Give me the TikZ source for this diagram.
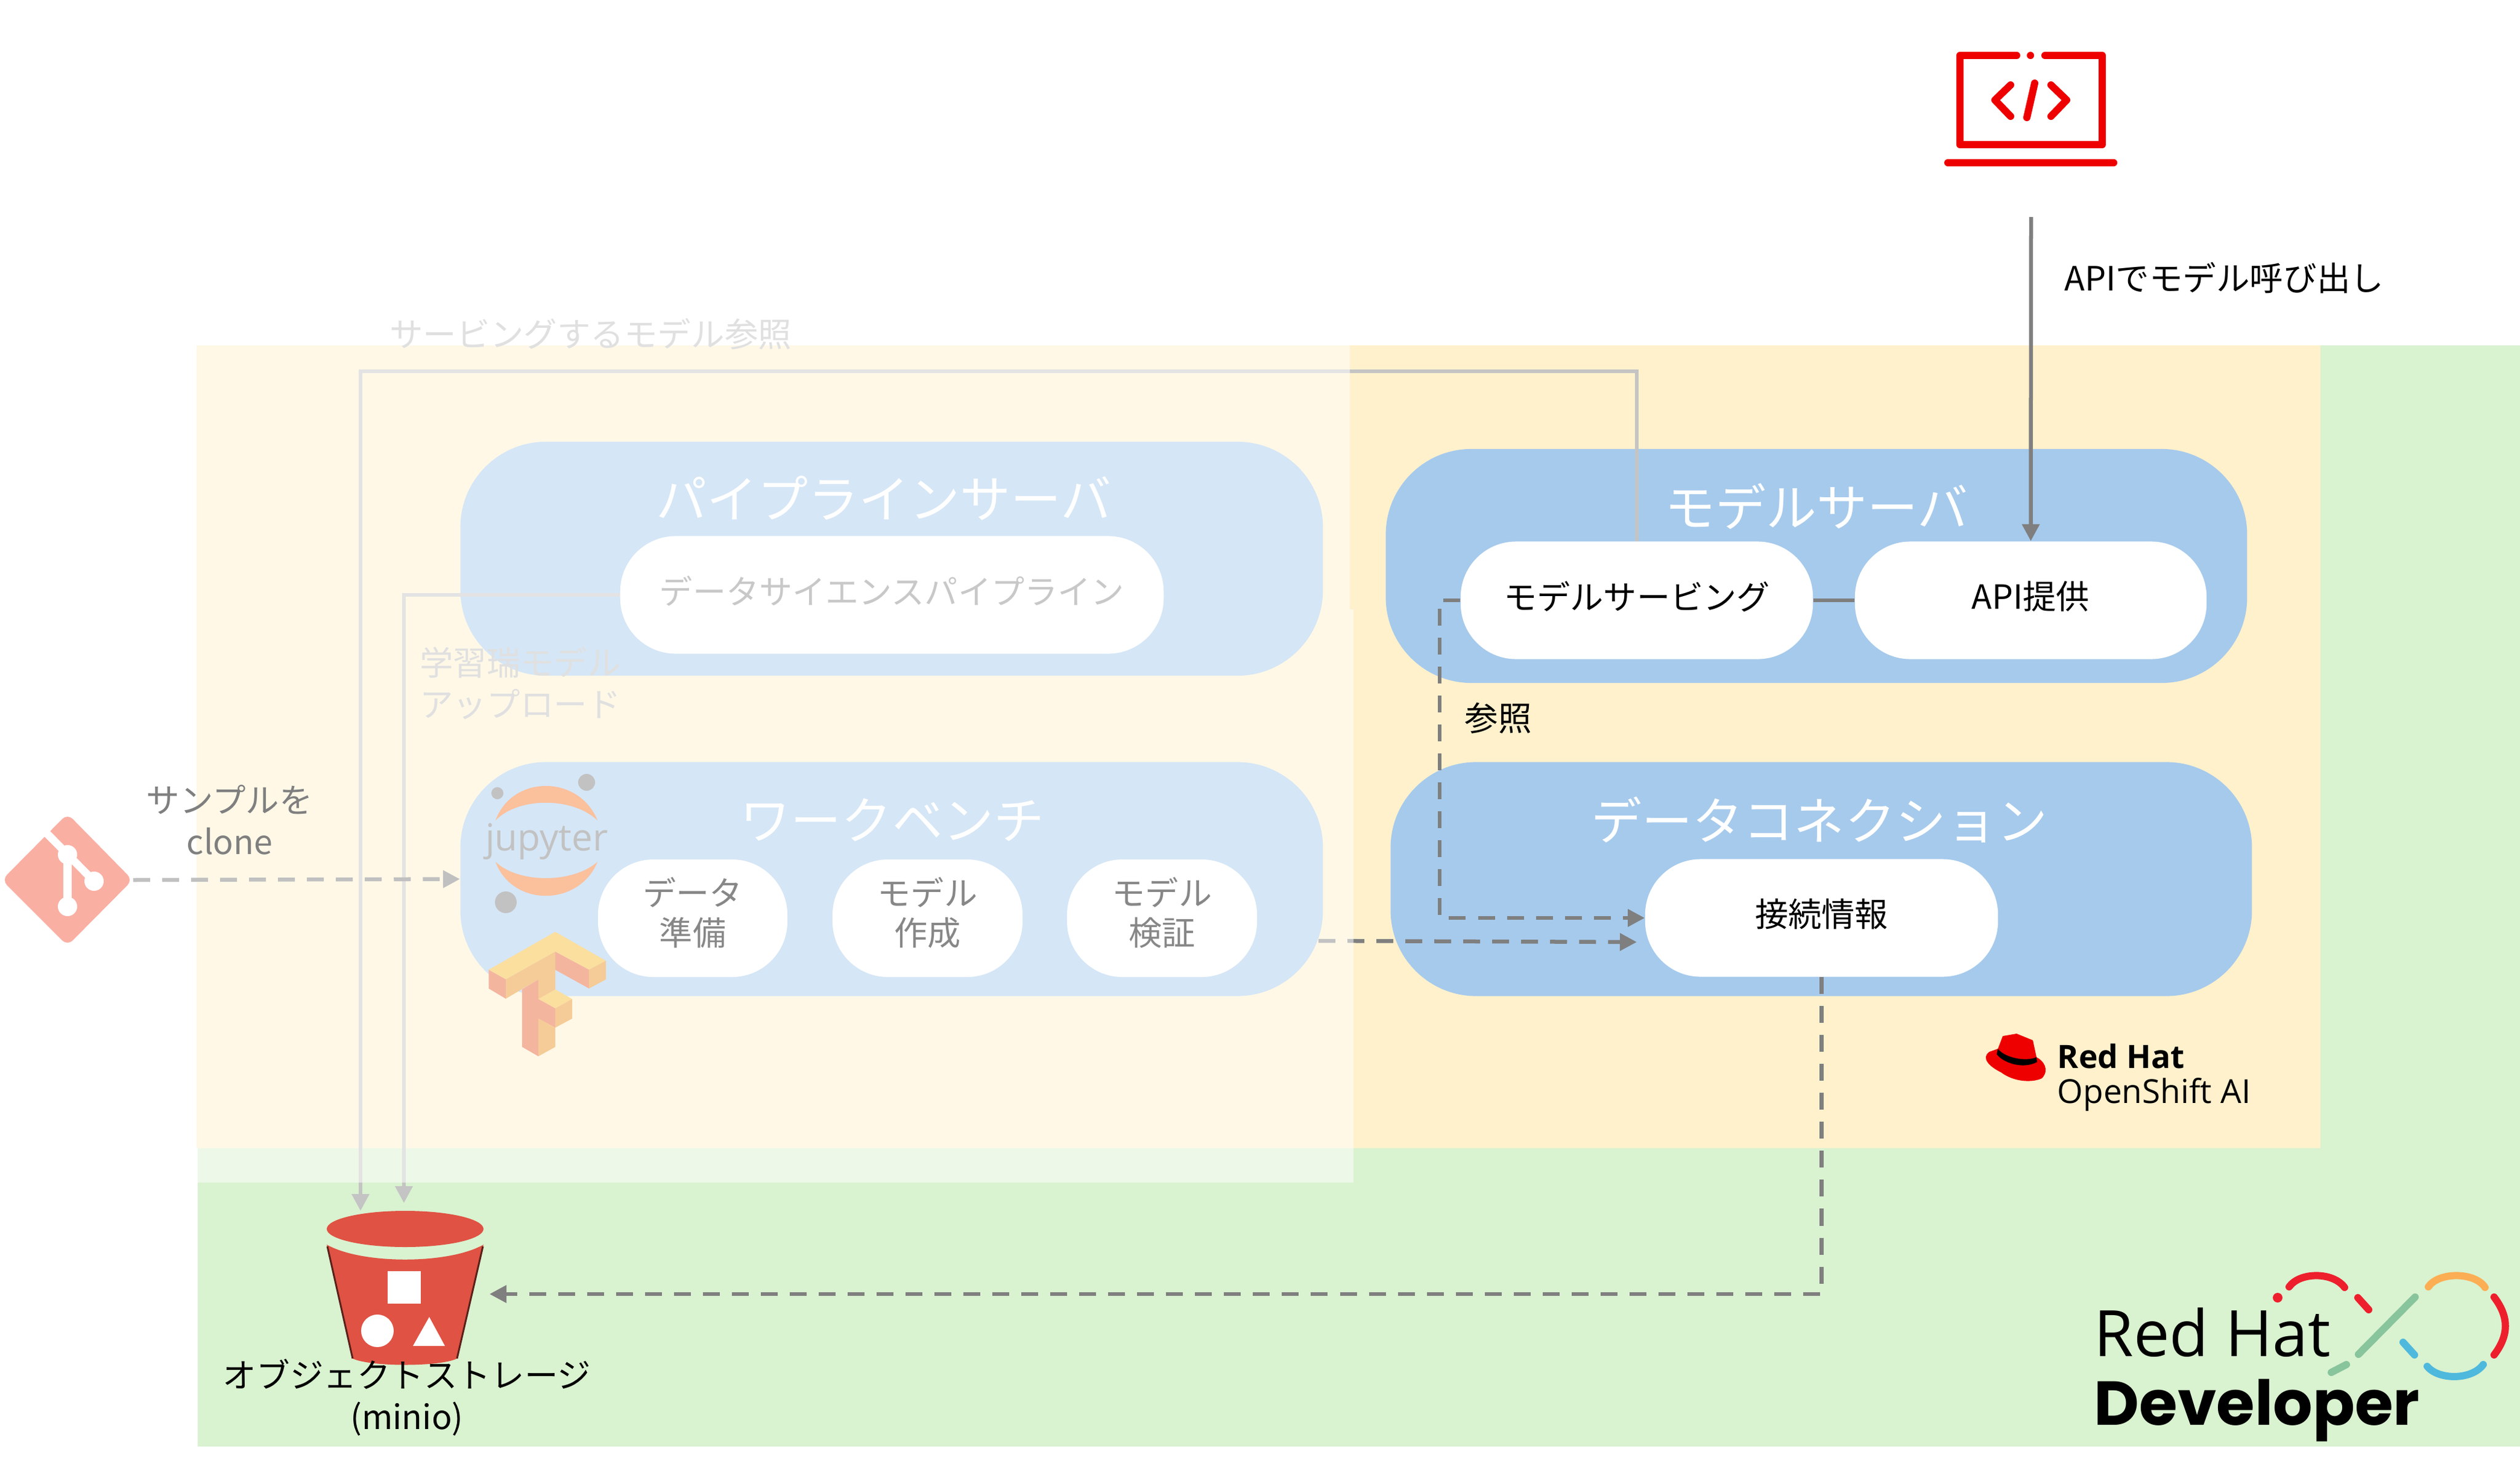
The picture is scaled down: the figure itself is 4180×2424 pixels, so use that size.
\documentclass[tikz,border=0pt]{standalone}
\usepackage{fontspec}
\setmainfont{Noto Sans CJK JP}
\newfontfamily\logofont{Open Sans}
\newfontfamily\devfont{Poppins}
\usetikzlibrary{arrows.meta}
\definecolor{mygreen}{HTML}{d9f2d0}
\definecolor{myyellow}{HTML}{fff1cc}
\definecolor{myserver}{HTML}{a6caec}
\definecolor{myline}{HTML}{7f7f7f}
\definecolor{myfaint}{HTML}{c4c4c4}
\definecolor{mypale}{HTML}{c0c0c0}
\definecolor{myghost}{HTML}{e0e0e0}
\definecolor{myred}{HTML}{ee0000}
\definecolor{mybucket}{HTML}{e05243}
\definecolor{mydevred}{HTML}{ee1f2d}
\definecolor{mydevgreen}{HTML}{88c49c}
\definecolor{mydevblue}{HTML}{4fb9dd}
\definecolor{mydevorange}{HTML}{fcae54}
\definecolor{mygit}{HTML}{faafa3}
\definecolor{myjupyter}{HTML}{f77a2d}
\definecolor{mytftop}{HTML}{f7bb35}
\definecolor{mytfleft}{HTML}{e86235}
\definecolor{mytfright}{HTML}{ea9324}
\tikzset{
  x=0.01cm, y=-0.01cm,
  server/.style={fill=myserver, rounded corners=1.42cm, minimum width=14.3cm, minimum height=3.88cm},
  pill/.style={fill=white, rounded corners=0.92cm, minimum height=1.95cm, align=center,
    font=\fontsize{15.7pt}{19pt}\selectfont, execute at end node={\rule[-4.8pt]{0pt}{1pt}}},
  tallpill/.style={pill, execute at end node={\rule[-6.6pt]{0pt}{1pt}}},
  title/.style={text=white, font=\fontsize{23.9pt}{24pt}\selectfont},
  caption/.style={align=center, font=\fontsize{15.8pt}{19.6pt}\selectfont},
  conn/.style={line width=0.065cm, draw=myline, -{Triangle[width=0.28cm,length=0.28cm]}},
  dashconn/.style={conn, dash pattern=on 0.28cm off 0.2cm},
  faintconn/.style={conn, draw=myfaint},
  logostroke/.style={line width=0.12cm, line cap=round, line join=round},
}
\begin{document}
\begin{tikzpicture}
\useasboundingbox (0,0) rectangle (4180,2424);
% background zones
\node[fill=mygreen, minimum width=38.53cm, minimum height=18.26cm, anchor=north west] (greenzone) at (327,572) {};
\node[fill=myyellow, minimum width=35.21cm, minimum height=13.32cm, anchor=north west] (yellowzone) at (325,572) {};
% servers
\node[server] (pipesrv) at (1479,927) {};
\node[server] (wbsrv) at (1479,1458.5) {};
\node[server, minimum width=14.28cm] (modelsrv) at (3013,939) {};
\node[server, minimum width=14.28cm] (datasrv) at (3021,1458.5) {};
\node[title] (pipetitle) at (1466,827) {パイプラインサーバ};
\node[title] (wbtitle) at (1480,1360) {ワークベンチ};
\node[title] (modeltitle) at (3013,840) {モデルサーバ};
\node[title] (datatitle) at (3018,1360) {データコネクション};
% white boxes
\node[pill, minimum width=9.01cm, text=black!45!white] (pipeline) at (1479.5,987) {データサイエンスパイプライン};
\node[tallpill, minimum width=3.14cm] (prep) at (1149,1523.5) {データ\\準備};
\node[tallpill, minimum width=3.15cm] (build) at (1538.5,1523.5) {モデル\\作成};
\node[tallpill, minimum width=3.15cm] (check) at (1927.5,1523.5) {モデル\\検証};
\node[pill, minimum width=5.84cm] (serving) at (2715,996) {モデルサービング};
\node[pill, minimum width=5.83cm] (apibox) at (3368.5,996) {API提供};
\node[pill, minimum width=5.85cm] (conninfo) at (3021.5,1523) {接続情報};
% jupyter
\fill[myjupyter] (822,1361) .. controls (850,1285) and (960,1285) .. (991,1361) .. controls (950,1322) and (860,1322) .. cycle;
\fill[myjupyter] (822,1430) .. controls (860,1466) and (950,1466) .. (991,1430) .. controls (960,1505) and (850,1505) .. cycle;
\fill[myline] (825,1316) circle (10);
\fill[myline] (973,1298) circle (14);
\fill[myline] (839,1497) circle (18);
\node[text=myline, font=\logofont\fontsize{17.6pt}{17pt}\selectfont] (jupyter) at (907,1396) {jupyter};
% tensorflow
\fill[mytftop] (810.5,1609) -- (921,1546) -- (1005,1594) -- (977,1609) -- (921,1579) -- (839,1625) -- cycle;
\fill[mytftop] (893,1657.5) -- (921,1641.5) -- (949,1657.5) -- (921,1673) -- cycle;
\fill[mytfleft] (810.5,1609) -- (839,1625) -- (839,1657) -- (810.5,1640) -- cycle;
\fill[mytfleft] (921,1579) -- (977,1609) -- (977,1640) -- (921,1609) -- cycle;
\fill[mytfleft] (866,1641.5) -- (893,1625) -- (893,1752.5) -- (866,1737) -- cycle;
\fill[mytfleft] (893,1657.5) -- (921,1673) -- (921,1705) -- (893,1690) -- cycle;
\fill[mytfright] (839,1625) -- (921,1579) -- (921,1641.5) -- (893,1657.5) -- (893,1625) -- (839,1657) -- cycle;
\fill[mytfright] (977,1609) -- (1005,1594) -- (1005,1625) -- (977,1640) -- cycle;
\fill[mytfright] (893,1690) -- (921,1705) -- (921,1737) -- (893,1752.5) -- cycle;
\fill[mytfright] (921,1673) -- (949,1657.5) -- (949,1690) -- (921,1705) -- cycle;
% connectors
\coordinate (servecorner) at (598,616);
\coordinate (bktserve) at (598,2009);
\coordinate (bktupload) at (670,1996);
\coordinate (bktside) at (812,2147);
\coordinate (wbout) at (2187,1561);
\coordinate (connin) at (2715,1563);
\coordinate (apistart) at (3369,360);
\draw[faintconn] (serving.north) |- (servecorner) -- (bktserve);
\draw[faintconn] (pipeline.west) -| (bktupload);
\draw[dashconn] (wbout) -- (connin);
\draw[dashconn] (serving.west) -- ++(-34,0) |- (conninfo.west);
\draw[dashconn] (conninfo.south) |- (bktside);
\draw[conn] (apistart) -- (apibox.north);
\draw[line width=0.065cm, draw=myline] (serving.east) -- (apibox.west);
% washed out left part
\fill[white, opacity=0.53] (325,572) -- (2239,572) -- (2239,1011) -- (2245,1011) -- (2245,1962) -- (325,1962) -- cycle;
\node[text=myghost, caption, anchor=west] (servelabel) at (634,554) {サービングするモデル参照};
\node[text=myghost, caption, anchor=west, align=left] (uploadlabel) at (684,1133) {学習瑞モデル\\アップロード};
\node[text=myline, caption] (clonelabel) at (381,1360) {サンプルを\\clone};
\node[caption] (reflabel) at (2485,1192) {参照};
\node[caption, anchor=west] (apilabel) at (3412,461) {APIでモデル呼び出し};
% git
\fill[rounded corners=0.12cm, fill=mygit] (112,1350) -- (220,1460) -- (112,1569) -- (3,1460) -- cycle;
\draw[line width=0.13cm, white] (75,1380) -- (156,1462);
\draw[line width=0.13cm, white] (112,1418) -- (112,1504);
\fill[white] (112,1418) circle (16);
\fill[white] (156,1462) circle (16);
\fill[white] (112,1504) circle (16);
\coordinate (gitout) at (221,1460);
\draw[dashconn, draw=mypale] (gitout) -- (wbsrv.west);
% laptop
\draw[logostroke, myred] (3345,92) -- (3251,92) -- (3251,240) -- (3487,240) -- (3487,92) -- (3392,92);
\fill[myred] (3368,92) circle (6);
\draw[logostroke, myred] (3231,270) -- (3506,270);
\draw[logostroke, myred] (3335,141) -- (3309,166) -- (3335,193);
\draw[logostroke, myred] (3375,138) -- (3362,195);
\draw[logostroke, myred] (3402,141) -- (3428,166) -- (3402,193);
% bucket
\fill[mybucket] (672,2039) ellipse (130 and 30);
\fill[mybucket] (542,2065) .. controls (600,2098) and (744,2098) .. (802,2065) -- (758,2254) .. controls (730,2268) and (614,2268) .. (585,2254) -- cycle;
\draw[line width=0.03cm, black!60!mybucket] (543,2068) -- (585,2254);
\draw[line width=0.03cm, black!60!mybucket] (801,2068) -- (758,2254);
\fill[white] (643,2109) rectangle (698,2163);
\fill[white] (626,2208) circle (27);
\fill[white] (712,2185) -- (738,2233) -- (685,2233) -- cycle;
\node[caption] (bucketlabel) at (675,2319) {オブジェクトストレージ\\(minio)};
% openshift logo
\fill[myred] (3322,1719) -- (3345,1715) -- (3372,1726) -- (3378,1754) .. controls (3390,1760) and (3400,1775) .. (3387,1789) .. controls (3370,1797) and (3340,1795) .. (3319,1779) .. controls (3300,1770) and (3285,1755) .. (3300,1745) -- (3314,1740) -- cycle;
\fill[black] (3314,1740) .. controls (3325,1755) and (3360,1762) .. (3378,1754) -- (3379,1762) .. controls (3355,1775) and (3322,1763) .. (3312,1749) -- cycle;
\node[anchor=base west, inner sep=0pt, font=\logofont\bfseries\fontsize{15.2pt}{16pt}\selectfont] (rhname) at (3412,1772) {Red Hat};
\node[anchor=base west, inner sep=0pt, font=\logofont\fontsize{15.6pt}{16pt}\selectfont] (rhprod) at (3412,1830) {OpenShift AI};
% developer logo
\node[anchor=base west, inner sep=0pt, font=\logofont\fontsize{30.2pt}{30pt}\selectfont] (devred) at (3473,2250) {Red Hat};
\node[anchor=base west, inner sep=0pt, font=\devfont\bfseries\fontsize{29.3pt}{30pt}\selectfont] (devname) at (3473,2364) {Developer};
\draw[logostroke, mydevorange] (4028,2135) .. controls (4045,2110) and (4105,2110) .. (4122,2136);
\draw[logostroke, mydevred] (4137,2152) .. controls (4162,2185) and (4162,2215) .. (4137,2248);
\draw[logostroke, mydevblue] (4026,2267) .. controls (4045,2290) and (4100,2290) .. (4119,2264);
\draw[logostroke, mydevblue] (3986,2227) -- (4005,2248);
\draw[logostroke, mydevgreen] (3912,2247) -- (4006,2152);
\draw[logostroke, mydevred] (3911,2153) -- (3929,2173);
\draw[logostroke, mydevgreen] (3867,2277) -- (3892,2264);
\draw[logostroke, mydevred] (3797,2135) .. controls (3815,2110) and (3870,2110) .. (3889,2136);
\fill[mydevred] (3778,2153) circle (8);
\end{tikzpicture}
\end{document}
